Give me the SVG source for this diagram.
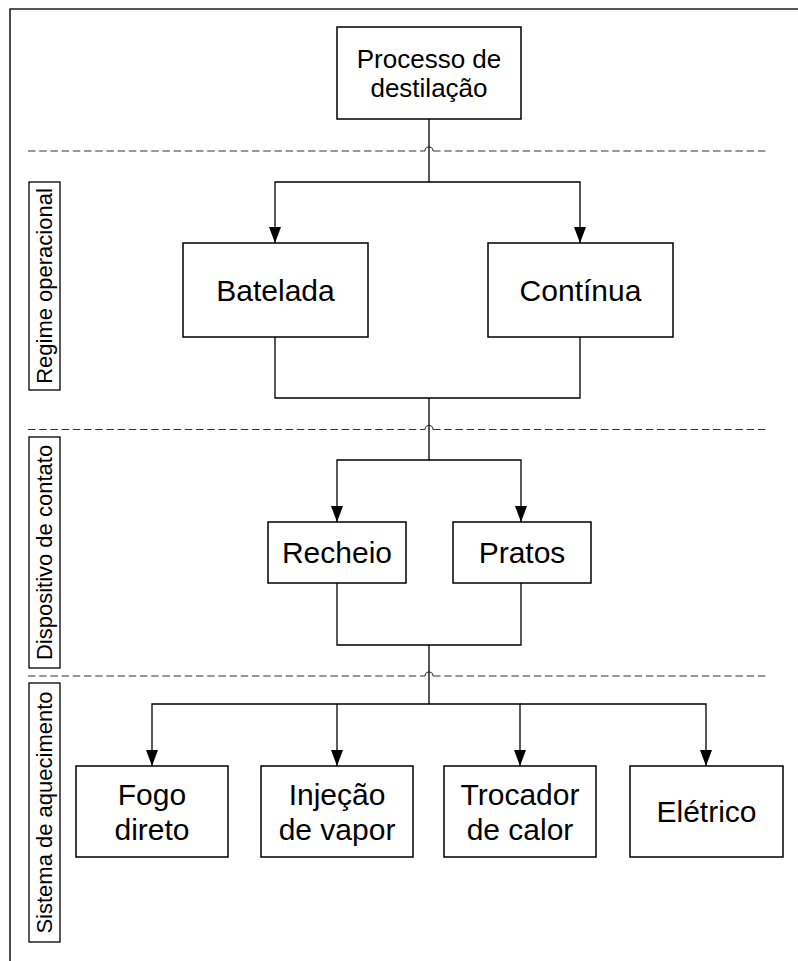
<svg xmlns="http://www.w3.org/2000/svg" width="798" height="961" viewBox="0 0 798 961">
<style>
.box{fill:#fff;stroke:#000;stroke-width:1.5}
.lbl{font-family:"Liberation Sans",Arial,sans-serif;fill:#000;text-anchor:middle}
.side{fill:#fff;stroke:#000;stroke-width:1.3}
.conn{fill:none;stroke:#000;stroke-width:1.3}
.dash{fill:none;stroke:#333;stroke-width:1.2;stroke-dasharray:7.5,3.7}
.hop{fill:none;stroke:#333;stroke-width:1.1}
</style>
<defs>
<marker id="arr" viewBox="0 0 16 12" refX="16" refY="6" markerWidth="16" markerHeight="12" markerUnits="userSpaceOnUse" orient="auto">
<path d="M0,0 L16,6 L0,12 Z" fill="#000"/>
</marker>
</defs>
<rect width="798" height="961" fill="#fff"/>
<g id="frame">
<path d="M10,961 V9 H798" fill="none" stroke="#222" stroke-width="1.6"/>
</g>
<g id="separators">
<path class="dash" d="M28,151 H425 M433,151 H768"/>
<path class="hop" d="M425,151 a4,4 0 0 1 8,0"/>
<path class="dash" d="M28,429.5 H425 M433,429.5 H768"/>
<path class="hop" d="M425,429.5 a4,4 0 0 1 8,0"/>
<path class="dash" d="M28,676 H425 M433,676 H768"/>
<path class="hop" d="M425,676 a4,4 0 0 1 8,0"/>
</g>
<g id="connectors">
<path class="conn" d="M429,119 V182 H275 V243" marker-end="url(#arr)"/>
<path class="conn" d="M429,182 H580 V243" marker-end="url(#arr)"/>
<path class="conn" d="M275,337 V398 H580 V337"/>
<path class="conn" d="M429,398 V460 H337 V522" marker-end="url(#arr)"/>
<path class="conn" d="M429,460 H521 V522" marker-end="url(#arr)"/>
<path class="conn" d="M337,583 V645 H521 V583"/>
<path class="conn" d="M429,645 V704 H152 V766" marker-end="url(#arr)"/>
<path class="conn" d="M337,704 V766" marker-end="url(#arr)"/>
<path class="conn" d="M429,704 H520 V766" marker-end="url(#arr)"/>
<path class="conn" d="M520,704 H706 V766" marker-end="url(#arr)"/>
</g>
<g id="side-regime">
<rect class="side" x="29" y="182" width="31" height="208"/>
<text class="lbl" font-size="22" transform="translate(52,286) rotate(-90)">Regime operacional</text>
</g>
<g id="side-dispositivo">
<rect class="side" x="29" y="437" width="31" height="231"/>
<text class="lbl" font-size="22" transform="translate(52,552.5) rotate(-90)">Dispositivo de contato</text>
</g>
<g id="side-sistema">
<rect class="side" x="29" y="683" width="31" height="259"/>
<text class="lbl" font-size="22" transform="translate(52,812.5) rotate(-90)">Sistema de aquecimento</text>
</g>
<g id="processo">
<rect class="box" x="337" y="27" width="184" height="92"/>
<text class="lbl" font-size="26" x="429" y="68">Processo de</text>
<text class="lbl" font-size="26" x="429" y="97">destilação</text>
</g>
<g id="batelada">
<rect class="box" x="183" y="243" width="185" height="94"/>
<text class="lbl" font-size="30" x="275.5" y="300.5">Batelada</text>
</g>
<g id="continua">
<rect class="box" x="488" y="243" width="185" height="94"/>
<text class="lbl" font-size="30" x="580.5" y="300.5">Contínua</text>
</g>
<g id="recheio">
<rect class="box" x="268" y="522" width="138" height="61"/>
<text class="lbl" font-size="30" x="337" y="563">Recheio</text>
</g>
<g id="pratos">
<rect class="box" x="453" y="522" width="138" height="61"/>
<text class="lbl" font-size="30" x="522" y="563">Pratos</text>
</g>
<g id="fogo">
<rect class="box" x="76" y="766" width="152" height="91"/>
<text class="lbl" font-size="30" x="152" y="805">Fogo</text>
<text class="lbl" font-size="30" x="152" y="840">direto</text>
</g>
<g id="injecao">
<rect class="box" x="261" y="766" width="152" height="91"/>
<text class="lbl" font-size="30" x="337" y="805">Injeção</text>
<text class="lbl" font-size="30" x="337" y="840">de vapor</text>
</g>
<g id="trocador">
<rect class="box" x="444" y="766" width="152" height="91"/>
<text class="lbl" font-size="30" x="520" y="805">Trocador</text>
<text class="lbl" font-size="30" x="520" y="840">de calor</text>
</g>
<g id="eletrico">
<rect class="box" x="630" y="766" width="153" height="91"/>
<text class="lbl" font-size="30" x="706.5" y="822">Elétrico</text>
</g>
</svg>
